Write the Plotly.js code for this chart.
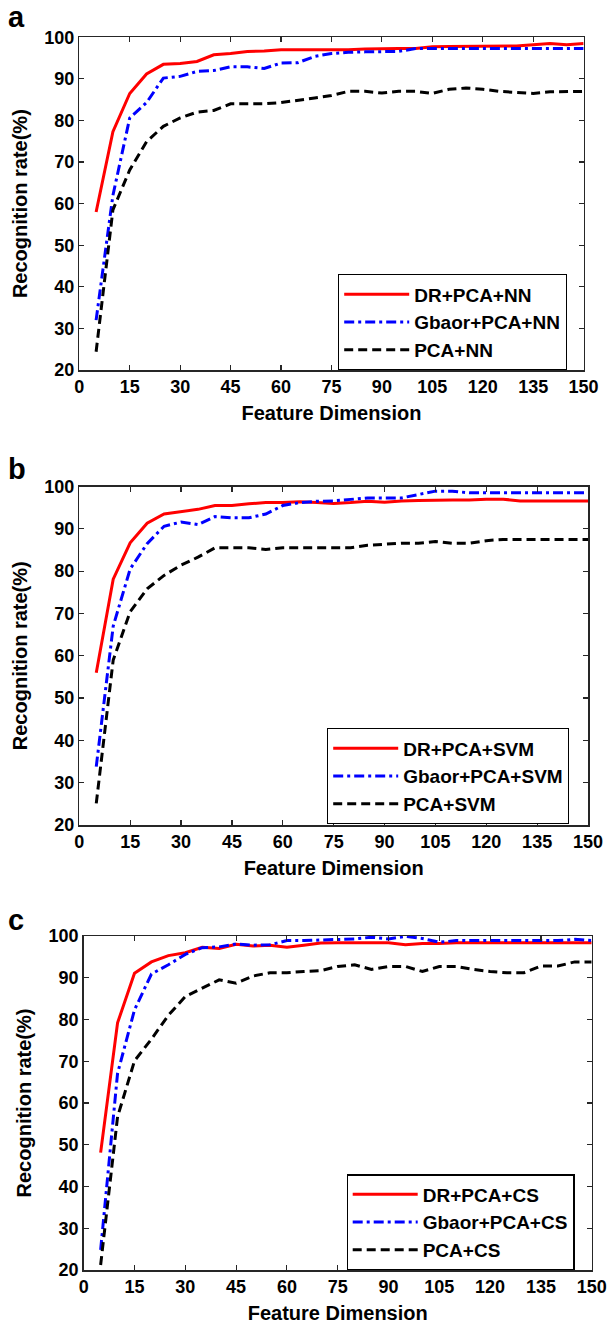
<!DOCTYPE html>
<html>
<head>
<meta charset="utf-8">
<script src="https://cdn.plot.ly/plotly-3.0.1.min.js"></script>
<style>
html,body{margin:0;padding:0;background:#fff;}
#chart{width:609px;height:1327px;}
</style>
</head>
<body>
<div id="chart"></div>
<script>
// Feature dimensions (x values)
var dims = [5,10,15,20,25,30,35,40,45,50,55,60,65,70,75,80,85,90,95,100,105,110,115,120,125,130,135,140,145,150];

// Panel a (NN)
var aDR  = [58.0,77.3,86.5,91.2,93.5,93.7,94.2,95.8,96.1,96.6,96.7,97.0,97.0,97.0,97.0,97.0,97.2,97.3,97.3,97.3,97.7,97.8,97.8,97.8,97.8,97.9,98.2,98.5,98.2,98.5];
var aGb  = [32.0,62.0,80.6,84.3,90.2,90.6,91.8,92.0,92.9,92.9,92.5,93.8,93.9,95.4,96.1,96.4,96.5,96.5,96.6,97.3,97.3,97.3,97.3,97.3,97.3,97.3,97.3,97.3,97.3,97.3];
var aPCA = [24.4,58.5,68.1,74.9,78.6,80.6,82.0,82.4,84.0,84.0,84.0,84.3,84.8,85.4,86.0,87.0,87.0,86.6,87.0,87.0,86.5,87.5,87.8,87.5,87.0,86.7,86.5,86.9,87.0,87.0];

// Panel b (SVM)
var bDR  = [56.0,78.1,86.7,91.3,93.5,94.0,94.6,95.5,95.5,95.9,96.2,96.2,96.4,96.2,96.0,96.2,96.5,96.3,96.6,96.7,96.8,96.8,96.8,97.0,97.0,96.6,96.6,96.6,96.6,96.6];
var bGb  = [33.8,67.0,80.5,86.5,90.6,91.6,91.0,92.9,92.6,92.6,93.5,95.5,96.2,96.5,96.6,97.0,97.3,97.3,97.3,98.1,98.9,98.9,98.5,98.5,98.5,98.5,98.5,98.5,98.5,98.5];
var bPCA = [25.1,59.0,70.4,75.8,79.0,81.4,83.3,85.5,85.5,85.5,85.1,85.5,85.5,85.5,85.5,85.5,86.1,86.3,86.6,86.6,87.0,86.6,86.6,87.2,87.5,87.5,87.5,87.5,87.5,87.5];

// Panel c (CS)
var cDR  = [48.1,79.2,91.1,93.8,95.3,96.0,97.3,97.0,98.0,97.6,97.8,97.3,97.8,98.3,98.4,98.4,98.4,98.4,97.9,98.2,98.2,98.4,98.4,98.4,98.4,98.4,98.4,98.4,98.4,98.4];
var cGb  = [24.8,67.1,82.3,90.9,93.1,95.6,97.2,97.4,98.1,97.8,97.9,98.9,98.9,99.0,99.2,99.3,99.7,99.3,99.9,99.4,98.5,98.9,98.9,98.9,98.9,98.9,98.9,98.9,99.2,98.9];
var cPCA = [21.2,56.7,70.1,75.3,81.0,85.5,87.5,89.5,88.7,90.4,91.2,91.2,91.5,91.7,92.7,93.1,92.0,92.7,92.7,91.5,92.7,92.7,92.0,91.5,91.2,91.2,92.8,92.8,93.8,93.8];

var names = {
  a: ['DR+PCA+NN','Gbaor+PCA+NN','PCA+NN'],
  b: ['DR+PCA+SVM','Gbaor+PCA+SVM','PCA+SVM'],
  c: ['DR+PCA+CS','Gbaor+PCA+CS','PCA+CS']
};
var xTicks = [0,15,30,45,60,75,90,105,120,135,150];
var yTicks = [20,30,40,50,60,70,80,90,100];

var FONT = 'Liberation Sans, Arial, Helvetica, sans-serif';
var styles = [
  {color:'#ff0000', width:3, dash:'solid'},
  {color:'#0000ff', width:3, dash:'10px,4px,3px,4px'},
  {color:'#000000', width:3, dash:'9px,5px'}
];

var panels = [
  {key:'a', series:[aDR,aGb,aPCA], xa:'x',  ya:'y',  leg:'legend'},
  {key:'b', series:[bDR,bGb,bPCA], xa:'x2', ya:'y2', leg:'legend2'},
  {key:'c', series:[cDR,cGb,cPCA], xa:'x3', ya:'y3', leg:'legend3'}
];

var traces = [];
panels.forEach(function(p){
  p.series.forEach(function(s,i){
    traces.push({
      x: dims, y: s, type:'scatter', mode:'lines',
      name: names[p.key][i],
      line: styles[i],
      xaxis: p.xa, yaxis: p.ya, legend: p.leg,
      hoverinfo:'skip'
    });
  });
});

function xAxis(domain, anchor){
  return {
    domain: domain, anchor: anchor, range:[0,150],
    tickmode:'array', tickvals: xTicks, ticktext: xTicks.map(String),
    ticks:'inside', ticklen:5, tickwidth:1.2, tickcolor:'#262626',
    showline:true, linecolor:'#262626', linewidth:1.5, mirror:'ticks',
    showgrid:false, zeroline:false,
    tickfont:{family:FONT, size:18, color:'#000', weight:'bold'},
    title:{text:'Feature Dimension', standoff:10, font:{family:FONT, size:20, color:'#000', weight:'bold'}}
  };
}
function yAxis(domain, anchor){
  return {
    domain: domain, anchor: anchor, range:[20,100],
    tickmode:'array', tickvals: yTicks, ticktext: yTicks.map(String),
    ticks:'inside', ticklen:5, tickwidth:1.2, tickcolor:'#262626',
    showline:true, linecolor:'#262626', linewidth:1.5, mirror:'ticks',
    showgrid:false, zeroline:false,
    tickfont:{family:FONT, size:18, color:'#000', weight:'bold'},
    title:{text:'Recognition rate(%)', standoff:11, font:{family:FONT, size:20, color:'#000', weight:'bold'}}
  };
}
function legend(x, y){
  return {
    x:x, y:y, xanchor:'left', yanchor:'top',
    bgcolor:'#ffffff', bordercolor:'#000000', borderwidth:1.2,
    itemwidth:65, tracegroupgap:0,
    font:{family:FONT, size:19, color:'#000', weight:'bold'}
  };
}
function label(txt, y){
  return {text:txt, xref:'paper', yref:'paper', x:6/609, y:y, xanchor:'left', yanchor:'middle',
          showarrow:false, font:{family:FONT, size:29, color:'#000', weight:'bold'}};
}

var layout = {
  width:609, height:1327,
  margin:{l:0, r:0, t:0, b:0},
  paper_bgcolor:'#ffffff', plot_bgcolor:'#ffffff',
  showlegend:true,
  xaxis:  xAxis([79.3/609, 583.6/609], 'y'),
  yaxis:  yAxis([1-370/1327, 1-37.3/1327], 'x'),
  xaxis2: xAxis([79.3/609, 588/609], 'y2'),
  yaxis2: yAxis([1-825/1327, 1-486.5/1327], 'x2'),
  xaxis3: xAxis([83.7/609, 591.7/609], 'y3'),
  yaxis3: yAxis([1-1270/1327, 1-936/1327], 'x3'),
  legend:  legend(338/609, 1-274.3/1327),
  legend2: legend(327/609, 1-728.3/1327),
  legend3: legend(346.5/609, 1-1174.3/1327),
  annotations:[
    label('a', 1-16.5/1327),
    label('b', 1-469.5/1327),
    label('c', 1-919.5/1327)
  ]
};

Plotly.newPlot('chart', traces, layout, {displayModeBar:false, staticPlot:true});
</script>
</body>
</html>
